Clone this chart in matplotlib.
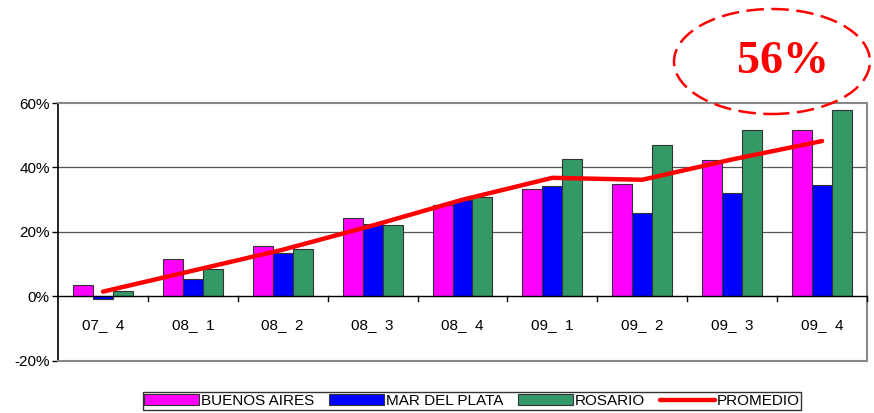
import matplotlib.pyplot as plt
import numpy as np
from matplotlib.patches import Ellipse

# === Data ===
trimestres = ['07_  4', '08_  1', '08_  2', '08_  3', '08_  4', '09_  1', '09_  2', '09_  3', '09_  4']
buenos_aires = [3.7, 11.5, 15.5, 24.2, 28.4, 33.2, 35.0, 42.4, 51.7]
mar_del_plata = [-0.8, 5.3, 13.6, 22.6, 29.8, 34.4, 26.0, 32.0, 34.6]
rosario = [1.6, 8.4, 14.6, 22.3, 30.8, 42.7, 47.0, 51.6, 57.9]
promedio = [1.5, 8.0, 14.5, 22.0, 30.0, 36.8, 36.2, 42.5, 48.2]

plt.rcParams['font.family'] = ['Liberation Sans', 'DejaVu Sans']

fig = plt.figure(figsize=(8.74, 4.13), dpi=100)
ax = fig.add_axes([0.0664, 0.126, 0.9256, 0.6246])

x = np.arange(len(trimestres))
w = 0.222
b1 = ax.bar(x - w, buenos_aires, w, color='#ff00ff', edgecolor='#333333', linewidth=0.8, label='BUENOS AIRES', zorder=3)
b2 = ax.bar(x, mar_del_plata, w, color='#0000ff', edgecolor='#333333', linewidth=0.8, label='MAR DEL PLATA', zorder=3)
b3 = ax.bar(x + w, rosario, w, color='#339966', edgecolor='#333333', linewidth=0.8, label='ROSARIO', zorder=3)
ln, = ax.plot(x, promedio, color='#ff0000', linewidth=3.2, solid_capstyle='round', label='PROMEDIO', zorder=4)

ax.set_xlim(-0.5, len(trimestres) - 0.5)
ax.set_ylim(-20, 60)
ax.set_yticks([-20, 0, 20, 40, 60])
ax.set_yticklabels([f'{v}%' for v in [-20, 0, 20, 40, 60]], fontsize=11)
ax.tick_params(axis='y', length=4, width=1, color='black', pad=2)

# gridlines
for v in [20, 40]:
    ax.axhline(v, color='#555555', linewidth=0.9, zorder=1)
ax.axhline(0, color='black', linewidth=1.0, zorder=5)

# category axis at zero
ax.set_xticks([])
for b in np.arange(0.5, len(trimestres), 1.0):
    ax.plot([b, b], [0, -1.5], color='black', linewidth=1.0, zorder=5, clip_on=False)
for xi, lab in zip(x, trimestres):
    ax.text(xi, -9, lab, ha='center', va='center', fontsize=11)

for s in ['top', 'right', 'bottom']:
    ax.spines[s].set_color('#888888')
    ax.spines[s].set_linewidth(1.5)
ax.spines['left'].set_color('black')
ax.spines['left'].set_linewidth(1.2)

# highlight
ell = Ellipse((772, 413 - 61.5), 196, 105, transform=None, fill=False,
              edgecolor='#ff0000', linewidth=1.8, linestyle=(0, (7, 3)))
fig.add_artist(ell)
fig.text(783 / 874, 1 - 62 / 413, '56%', ha='center', va='center', color='#ff0000',
         fontsize=33, fontweight='bold', family='Liberation Serif')

leg = fig.legend([b1, b2, b3, ln], ['BUENOS AIRES', 'MAR DEL PLATA', 'ROSARIO', 'PROMEDIO'],
                 loc='center', bbox_to_anchor=(472 / 874, 1 - 401 / 413), ncol=4, fontsize=11,
                 frameon=True, fancybox=False, edgecolor='black', handlelength=3.6,
                 handleheight=0.7, handletextpad=0.1, columnspacing=1.0,
                 borderpad=0.1, borderaxespad=0)
leg.get_frame().set_linewidth(1.0)

fig.savefig('out.png', dpi=100)
